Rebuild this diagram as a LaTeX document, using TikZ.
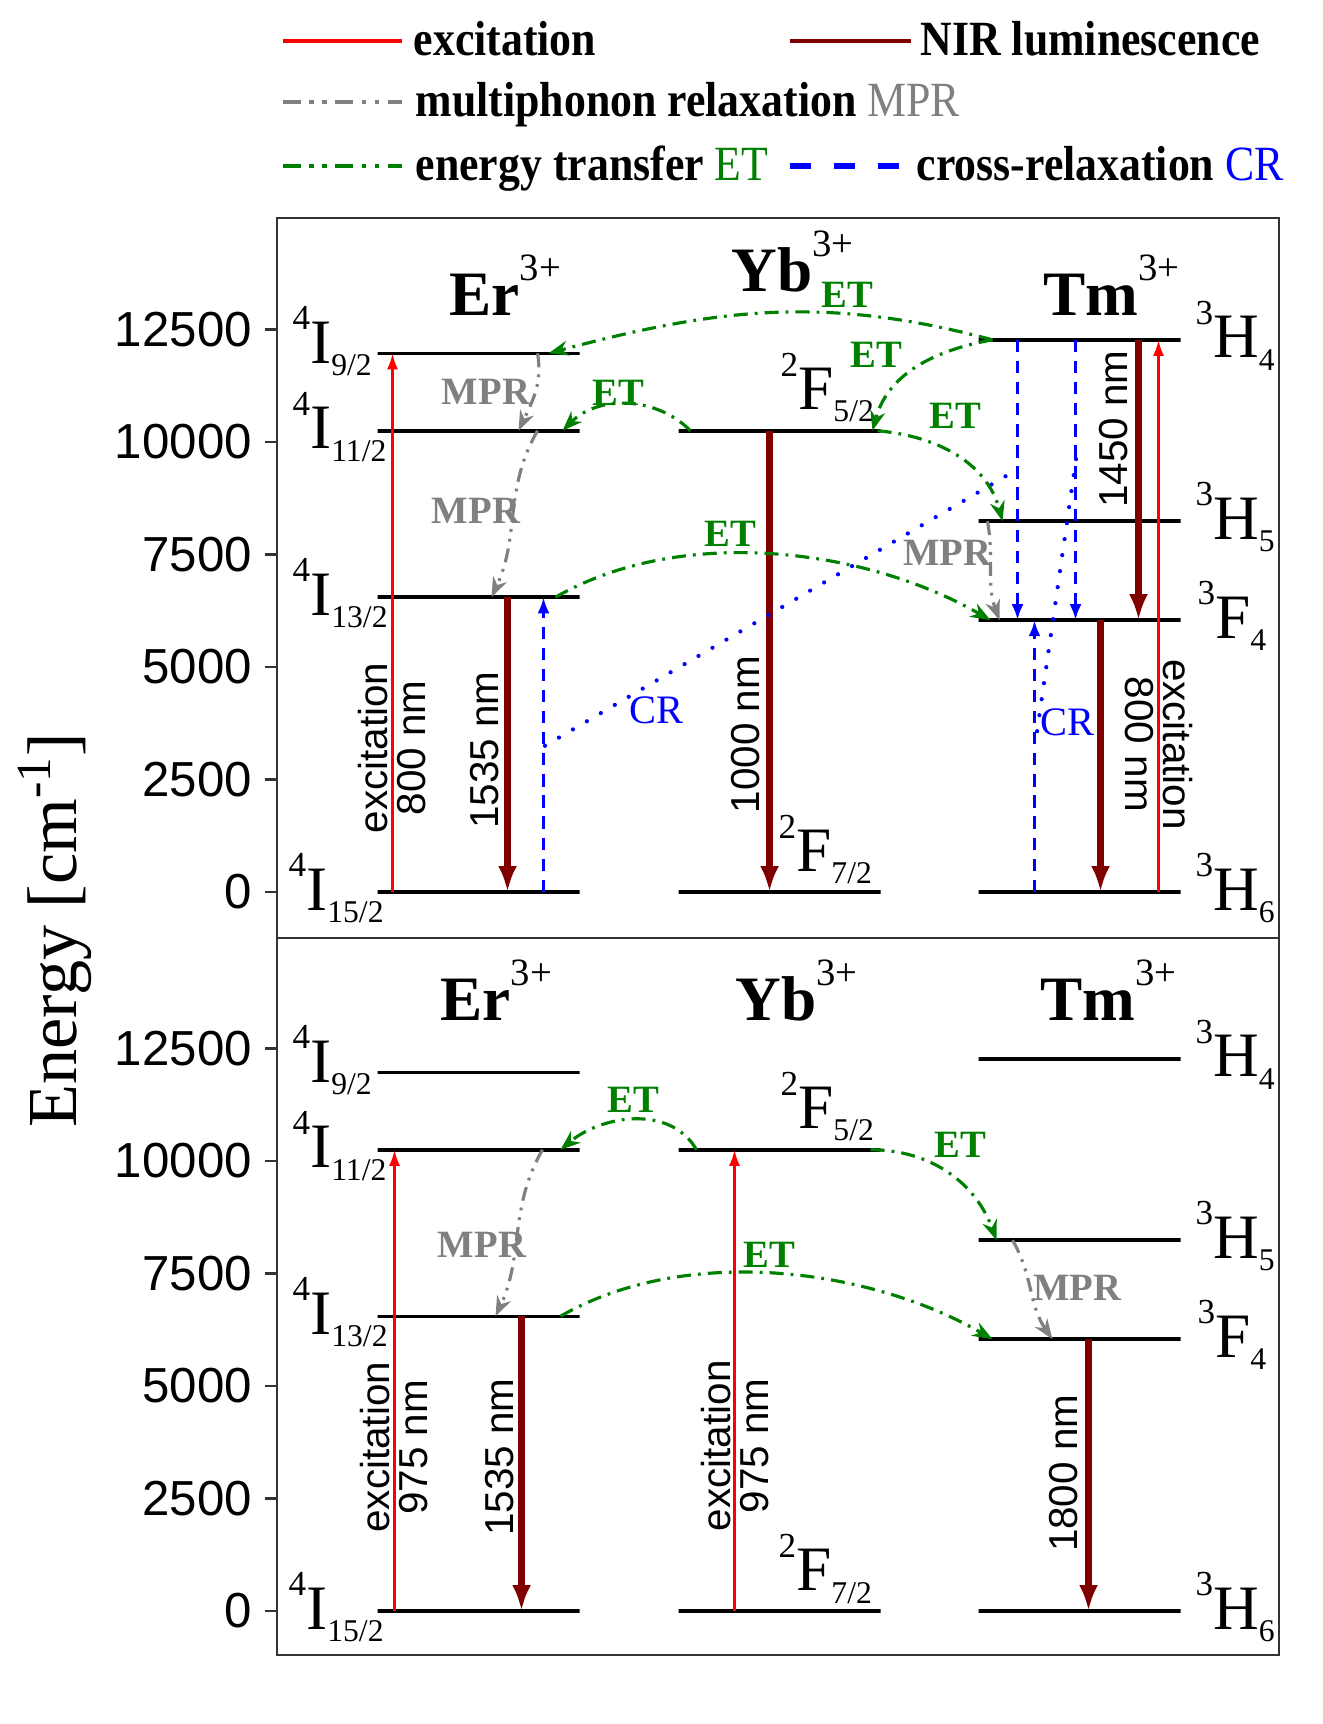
\documentclass[tikz,border=0pt]{standalone}
\usepackage{fontspec}
\setmainfont{Liberation Serif}
\setsansfont{Liberation Sans}
\newfontfamily\legfont[FakeStretch=0.89]{Liberation Serif}
\usetikzlibrary{arrows.meta}
\definecolor{nirred}{RGB}{128,0,0}
\definecolor{etgreen}{RGB}{0,128,0}
\definecolor{mprgray}{RGB}{128,128,128}
\newcommand{\lterm}[3]{\raisebox{9.5pt}{\fontsize{10}{10}\selectfont #1}#2\raisebox{-3.5pt}{\fontsize{9}{9}\selectfont #3}}
\newcommand{\ionlab}[1]{\textbf{#1}\raisebox{10pt}{\fontsize{11}{11}\selectfont 3+}}
\tikzset{
    level/.style={draw, line width=1pt, minimum width=2.02cm, minimum height=0pt,
        inner sep=0pt, outer sep=0pt},
    frame/.style={line width=0.7pt, black!80},
    term/.style={anchor=base west, yshift=-0.18cm, inner sep=0pt, font=\fontsize{18}{18}\selectfont},
    ion/.style={anchor=base west, inner sep=0pt, font=\fontsize{18}{18}\selectfont},
    ticklabel/.style={left=1.2mm, inner sep=0pt, text=black, font=\sffamily\fontsize{14}{14}\selectfont},
    trlabel/.style={align=center, inner sep=0pt, font=\sffamily\fontsize{11.5}{11}\selectfont},
    proclabel/.style={inner sep=0pt, font=\bfseries\fontsize{11}{11}\selectfont},
    legtext/.style={anchor=base west, inner sep=0pt, font=\legfont\bfseries\fontsize{14}{14}\selectfont},
    exc/.style={red, line width=0.7pt, -{Latex[length=1.6mm, width=1.1mm]}},
    nir/.style={nirred, line width=1.8pt, -{Latex[length=2.6mm, width=1.9mm]}},
    cross/.style={blue, line width=0.9pt, dash pattern=on 3.5pt off 2.5pt,
        -{Latex[length=1.6mm, width=1.2mm]}},
    crdot/.style={blue, line width=1.2pt, line cap=round, dash pattern=on 0pt off 4.6pt},
    transfer/.style={etgreen, line width=0.9pt,
        dash pattern=on 4pt off 2pt on 0.8pt off 2pt, -{Stealth[length=2mm, width=1.5mm]}},
    phonon/.style={mprgray, line width=0.9pt,
        dash pattern=on 4pt off 2pt on 0.8pt off 2pt on 0.8pt off 2pt,
        -{Stealth[length=2mm, width=1.5mm]}},
    dashdotdot/.style={line width=1.4pt,
        dash pattern=on 5pt off 2.5pt on 1.2pt off 2.5pt on 1.2pt off 2.5pt}
}

\begin{document}
\begin{tikzpicture}

    \useasboundingbox (0, 0) rectangle (13.22, -17.24);

    % legend
    \draw[red, line width=1.4pt] (2.83, -0.41) -- (4.02, -0.41);
    \node[legtext] (lgexc) at (4.13, -0.56) {excitation};
    \draw[nirred, line width=1.4pt] (7.90, -0.41) -- (9.11, -0.41);
    \node[legtext] (lgnir) at (9.20, -0.56) {NIR luminescence};
    \draw[mprgray, dashdotdot] (2.83, -1.02) -- (4.02, -1.02);
    \node[legtext] (lgmpr) at (4.15, -1.17)
        {multiphonon relaxation {\mdseries\color{mprgray}MPR}};
    \draw[etgreen, dashdotdot] (2.83, -1.66) -- (4.02, -1.66);
    \node[legtext] (lget) at (4.15, -1.81)
        {energy transfer {\mdseries\color{etgreen}ET}};
    \draw[blue, line width=1.9pt, dash pattern=on 6pt off 6.5pt] (7.90, -1.66) -- (9.05, -1.66);
    \node[legtext] (lgcr) at (9.16, -1.81)
        {cross-relaxation {\mdseries\color{blue}CR}};

    % frame
    \draw[frame] (2.77, -2.18) rectangle (12.79, -16.55);
    \draw[frame] (2.77, -9.38) -- (12.79, -9.38);
    \node[rotate=90, inner sep=0pt, font=\fontsize{20}{20}\selectfont] (ylab)
        at (0.55, -9.30) {Energy [cm\textsuperscript{-1}]};

    % levels, terms and ticks of both panels
    \foreach \p/\z in {t/-8.92, b/-16.11} {%
        \begin{scope}[yshift=\z cm, y=0.45cm, name prefix=\p-]
            \node[level] (er15) at (4.785, 0) {};
            \node[level] (er13) at (4.785, 6.55) {};
            \node[level] (er11) at (4.785, 10.25) {};
            \node[level] (er9) at (4.785, 11.97) {};
            \node[level] (yb7) at (7.795, 0) {};
            \node[level] (yb5) at (7.795, 10.25) {};
            \node[level] (tmh6) at (10.795, 0) {};
            \node[level] (tmf4) at (10.795, 6.04) {};
            \node[level] (tmh5) at (10.795, 8.24) {};
            \node[level] (tmh4) at (10.795, 12.27) {};

            \node[term] (er15l) at (2.88, 0) {\lterm{4}{I}{15/2}};
            \node[term] (er13l) at (2.92, 6.55) {\lterm{4}{I}{13/2}};
            \node[term] (er11l) at (2.92, 10.25) {\lterm{4}{I}{11/2}};
            \node[term] (er9l) at (2.92, 12.15) {\lterm{4}{I}{9/2}};
            \node[term, anchor=south west, yshift=0.25cm] (yb7l) at (7.78, 0) {\lterm{2}{F}{7/2}};
            \node[term, anchor=south west, yshift=0.26cm] (yb5l) at (7.80, 10.25) {\lterm{2}{F}{5/2}};
            \node[term] (tmh6l) at (11.95, 0) {\lterm{3}{H}{6}};
            \node[term] (tmf4l) at (11.97, 6.04) {\lterm{3}{F}{4}};
            \node[term] (tmh5l) at (11.95, 8.24) {\lterm{3}{H}{5}};
            \node[term] (tmh4l) at (11.95, 12.27) {\lterm{3}{H}{4}};

            \foreach \e in {0, 2500, 5000, 7500, 10000, 12500}
                \draw[frame] (2.77, \e/1000) -- ++(-0.12, 0)
                    node[ticklabel] (tick\e) {\e};
        \end{scope}
    }

    % upper panel: 800 nm excitation
    \begin{scope}[yshift=-8.92cm, y=0.45cm, name prefix=t-]
        \node[ion] (er) at (4.49, 12.81) {\ionlab{Er}};
        \node[ion] (yb) at (7.31, 13.35) {\ionlab{Yb}};
        \node[ion] (tm) at (10.43, 12.81) {\ionlab{Tm}};

        \draw[exc] ([xshift=0.15cm]er15.west) -- ([xshift=0.15cm]er9.west);
        \node[trlabel, rotate=90] (erexc) at (3.92, 3.20) {excitation\\800 nm};
        \draw[nir] ([xshift=1.30cm]er13.west) -- ([xshift=1.30cm]er15.west);
        \node[trlabel, rotate=90] (er1535) at (4.85, 3.15) {1535 nm};
        \draw[cross] ([xshift=1.66cm]er15.west) -- ([xshift=1.66cm]er13.west);

        \draw[nir] ([xshift=0.91cm]yb5.west) -- ([xshift=0.91cm]yb7.west);
        \node[trlabel, rotate=90] (yb1000) at (7.46, 3.50) {1000 nm};

        \draw[cross] ([xshift=0.39cm]tmh4.west) -- ([xshift=0.39cm]tmf4.west);
        \draw[cross] ([xshift=0.97cm]tmh4.west) -- ([xshift=0.97cm]tmf4.west);
        \draw[cross] ([xshift=0.56cm]tmh6.west) -- ([xshift=0.56cm]tmf4.west);
        \draw[nir] ([xshift=1.60cm]tmh4.west) -- ([xshift=1.60cm]tmf4.west);
        \node[trlabel, rotate=90] (tm1450) at (11.14, 10.29) {1450 nm};
        \draw[nir] ([xshift=1.22cm]tmf4.west) -- ([xshift=1.22cm]tmh6.west);
        \draw[exc] ([xshift=1.80cm]tmh6.west) -- ([xshift=1.80cm]tmh4.west);
        \node[trlabel, rotate=-90] (tmexc) at (11.59, 3.28) {excitation\\800 nm};

        % cross-relaxation links
        \coordinate (cra) at (5.45, 3.25);
        \coordinate (crb) at (10.18, 9.40);
        \coordinate (crc) at (10.76, 9.62);
        \coordinate (crd) at (10.35, 3.25);
        \draw[crdot] (cra) -- (crb);
        \draw[crdot] (crc) -- (crd);
        \node[proclabel, blue, font=\fontsize{11.5}{11.5}\selectfont] (cr1) at (6.56, 4.03) {CR};
        \node[proclabel, blue, font=\fontsize{11.5}{11.5}\selectfont] (cr2) at (10.67, 3.77) {CR};

        % energy transfer
        \draw[transfer] ([xshift=0.12cm]yb5.west) to[out=135, in=45] ([xshift=-0.17cm]er11.east);
        \node[proclabel, etgreen] (eta) at (6.18, 11.10) {ET};
        \draw[transfer] ([xshift=0.14cm]tmh4.west) to[out=165, in=15] ([xshift=-0.31cm]er9.east);
        \node[proclabel, etgreen] (etb) at (8.47, 13.28) {ET};
        \draw[transfer] ([xshift=0.14cm]tmh4.west) to[out=190, in=75] ([xshift=-0.08cm]yb5.east);
        \node[proclabel, etgreen] (etc) at (8.76, 11.93) {ET};
        \draw[transfer] ([xshift=-0.03cm]yb5.east) to[out=-5, in=105] ([xshift=0.24cm]tmh5.west);
        \node[proclabel, etgreen] (etd) at (9.55, 10.59) {ET};
        \draw[transfer] ([xshift=-0.24cm]er13.east) to[out=30, in=150, looseness=0.85] ([xshift=0.12cm]tmf4.west);
        \node[proclabel, etgreen] (ete) at (7.30, 7.97) {ET};

        % multiphonon relaxation
        \draw[phonon] ([xshift=-0.42cm]er9.east) to[out=-80, in=65] ([xshift=-0.61cm]er11.east);
        \node[proclabel, mprgray] (mpra) at (4.86, 11.12) {MPR};
        \draw[phonon] ([xshift=-0.42cm]er11.east) to[out=-120, in=65] ([xshift=-0.88cm]er13.east);
        \node[proclabel, mprgray] (mprb) at (4.76, 8.46) {MPR};
        \draw[phonon] ([xshift=0.09cm]tmh5.west) to[out=-80, in=110] ([xshift=0.21cm]tmf4.west);
        \node[proclabel, mprgray] (mprc) at (9.47, 7.53) {MPR};
    \end{scope}

    % lower panel: 975 nm excitation
    \begin{scope}[yshift=-16.11cm, y=0.45cm, name prefix=b-]
        \node[ion] (er) at (4.40, 13.13) {\ionlab{Er}};
        \node[ion] (yb) at (7.35, 13.13) {\ionlab{Yb}};
        \node[ion] (tm) at (10.40, 13.13) {\ionlab{Tm}};

        \draw[exc] ([xshift=0.17cm]er15.west) -- ([xshift=0.17cm]er11.west);
        \node[trlabel, rotate=90] (erexc) at (3.94, 3.64) {excitation\\975 nm};
        \draw[nir] ([xshift=1.44cm]er13.west) -- ([xshift=1.44cm]er15.west);
        \node[trlabel, rotate=90] (er1535) at (5.00, 3.42) {1535 nm};
        \draw[exc] ([xshift=0.56cm]yb7.west) -- ([xshift=0.56cm]yb5.west);
        \node[trlabel, rotate=90] (ybexc) at (7.35, 3.67) {excitation\\975 nm};
        \draw[nir] ([xshift=1.10cm]tmf4.west) -- ([xshift=1.10cm]tmh6.west);
        \node[trlabel, rotate=90] (tm1800) at (10.64, 3.06) {1800 nm};

        \draw[transfer] ([xshift=0.18cm]yb5.west) to[out=120, in=40] ([xshift=-0.19cm]er11.east);
        \node[proclabel, etgreen] (eta) at (6.33, 11.37) {ET};
        \draw[transfer] ([xshift=-0.19cm]er13.east) to[out=30, in=150, looseness=0.85] ([xshift=0.14cm]tmf4.west);
        \node[proclabel, etgreen] (ete) at (7.69, 7.92) {ET};
        \draw[transfer] ([xshift=-0.10cm]yb5.east) to[out=0, in=110] ([xshift=0.18cm]tmh5.west);
        \node[proclabel, etgreen] (etd) at (9.60, 10.37) {ET};

        \draw[phonon] ([xshift=-0.37cm]er11.east) to[out=-120, in=65] ([xshift=-0.84cm]er13.east);
        \node[proclabel, mprgray] (mpra) at (4.82, 8.14) {MPR};
        \draw[phonon] ([xshift=0.34cm]tmh5.west) to[out=-60, in=125] ([xshift=0.74cm]tmf4.west);
        \node[proclabel, mprgray] (mprb) at (10.77, 7.19) {MPR};
    \end{scope}

\end{tikzpicture}
\end{document}
